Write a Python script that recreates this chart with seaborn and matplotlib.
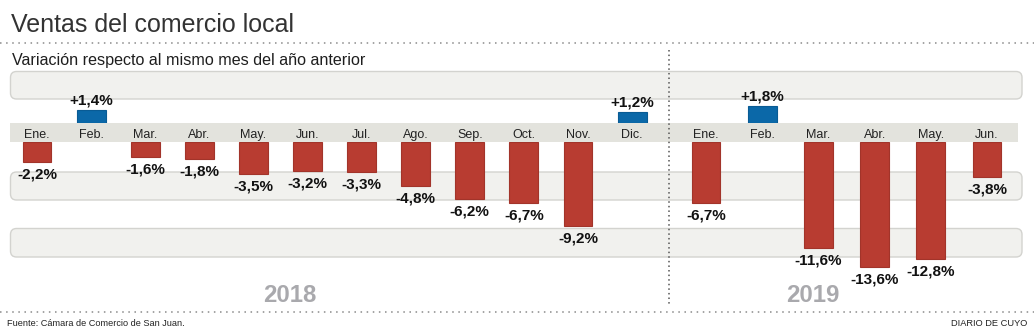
import matplotlib
matplotlib.use("Agg")
import matplotlib.pyplot as plt
from matplotlib.patches import FancyBboxPatch, Rectangle
import seaborn as sns
import pandas as pd

# ---------------- data ----------------
months_2018 = ["Ene.", "Feb.", "Mar.", "Abr.", "May.", "Jun.",
               "Jul.", "Ago.", "Sep.", "Oct.", "Nov.", "Dic."]
values_2018 = [-2.2, 1.4, -1.6, -1.8, -3.5, -3.2, -3.3, -4.8, -6.2, -6.7, -9.2, 1.2]
months_2019 = ["Ene.", "Feb.", "Mar.", "Abr.", "May.", "Jun."]
values_2019 = [-6.7, 1.8, -11.6, -13.6, -12.8, -3.8]
year_labels = ["2018", "2019"]

title = "Ventas del comercio local"
subtitle = "Variación respecto al mismo mes del año anterior"
source = "Fuente: Cámara de Comercio de San Juan."
credit = "DIARIO DE CUYO"

# ---------------- style ----------------
W, H = 1034, 333
RED, RED_EDGE = "#b83c31", "#a2342a"
BLUE, BLUE_EDGE = "#0b68a8", "#095b94"
BAND, BAND_EDGE = "#f1f1ee", "#d3d3cf"
LABEL_BAND = "#e3e3dd"
PX = 9.17  # pixels per percentage point

sns.set_theme(style="white")
plt.rcParams["font.family"] = ["Liberation Sans", "DejaVu Sans"]

fig = plt.figure(figsize=(W / 100, H / 100), dpi=100)
fig.patch.set_facecolor("white")

# background decoration axes in pixel coordinates
bg = fig.add_axes([0, 0, 1, 1])
bg.set_xlim(0, W)
bg.set_ylim(H, 0)
bg.axis("off")

for y0, y1 in [(71.5, 99), (172, 200), (228.5, 257)]:
    bg.add_patch(FancyBboxPatch((10.5, y0), 1011.5, y1 - y0,
                                boxstyle="round,pad=0,rounding_size=6",
                                fc=BAND, ec=BAND_EDGE, lw=1))
bg.add_patch(Rectangle((10, 123), 1008, 19, fc=LABEL_BAND, ec="none"))

bg.plot([0, W], [43.3, 43.3], ls=(0, (1, 3)), color="#8a8a8a", lw=1.1)
bg.plot([0, W], [312.3, 312.3], ls=(0, (1, 3)), color="#8a8a8a", lw=1.1)
bg.plot([669, 669], [50, 306], ls=(0, (1, 2)), color="#555555", lw=1.1)

bg.text(11, 31.7, title, fontsize=18, color="#333333", va="baseline")
bg.text(12.5, 65, subtitle, fontsize=11.6, color="#1e1e1e", va="baseline")
bg.text(7, 326, source, fontsize=6.6, color="#222222", va="baseline")
bg.text(1027, 326, credit, fontsize=6.7, color="#222222", va="baseline", ha="right")


def add_ax(x0, x1, ytop, ybot):
    ax = fig.add_axes([x0 / W, 1 - ybot / H, (x1 - x0) / W, (ybot - ytop) / H])
    ax.patch.set_alpha(0)
    for s in ax.spines.values():
        s.set_visible(False)
    return ax


def fmt(v):
    return f"{v:+.1f}%".replace(".", ",")


panels = [
    (months_2018, values_2018, 37, 54.1, 0.536, year_labels[0], 290),
    (months_2019, values_2019, 706, 56.2, 0.51, year_labels[1], 813),
]

for months, values, c0, step, width, ylab, ypos in panels:
    df = pd.DataFrame({"mes": months, "valor": values})
    neg = df[df["valor"] < 0]
    pos = df[df["valor"] > 0]
    x0 = c0 - 0.5 * step
    x1 = c0 + (len(months) - 0.5) * step

    # negative part: zero at bottom of label band
    axn = add_ax(x0, x1, 142, 310)
    sns.barplot(data=neg, x="mes", y="valor", order=months, color=RED,
                edgecolor=RED_EDGE, linewidth=0.8, width=width, saturation=1,
                errorbar=None, ax=axn)
    axn.set_ylim(-(310 - 142) / PX, 0)
    axn.set_xlim(-0.5, len(months) - 0.5)
    axn.bar_label(axn.containers[0], fmt=fmt, padding=4, fontsize=11,
                  fontweight="bold", color="#111111")
    axn.xaxis.tick_top()
    axn.tick_params(axis="x", length=0, pad=0.8, labelsize=9, labelcolor="#222222")
    axn.set_yticks([])
    axn.set_xlabel("")
    axn.set_ylabel("")

    # positive part: zero at top of label band
    axp = add_ax(x0, x1, 60, 123)
    sns.barplot(data=pos, x="mes", y="valor", order=months, color=BLUE,
                edgecolor=BLUE_EDGE, linewidth=0.8, width=width, saturation=1,
                errorbar=None, ax=axp)
    axp.set_ylim(0, (123 - 60) / PX)
    axp.set_xlim(-0.5, len(months) - 0.5)
    axp.bar_label(axp.containers[0], fmt=fmt, padding=2, fontsize=11,
                  fontweight="bold", color="#111111")
    axp.set_xticks([])
    axp.set_yticks([])
    axp.set_xlabel("")
    axp.set_ylabel("")

    bg.text(ypos, 301.7, ylab, fontsize=17.3, fontweight="bold", color="#a9a9ad",
            ha="center", va="baseline")

fig.savefig("out.png", dpi=100, facecolor="white")
